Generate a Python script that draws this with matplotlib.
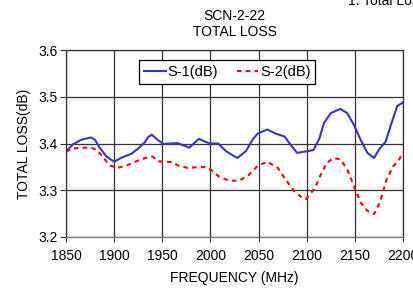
import matplotlib
matplotlib.use("Agg")
import matplotlib.pyplot as plt

plt.rcParams['font.family'] = ['Liberation Sans', 'DejaVu Sans']

freq_s1 = [1850, 1857, 1866, 1876, 1880, 1885, 1892, 1900, 1908, 1918, 1926, 1932,
           1935, 1939, 1945, 1951, 1966, 1978, 1988, 1999, 2008, 2016, 2022, 2028,
           2037, 2044, 2049, 2059, 2068, 2077, 2083, 2090, 2099, 2107, 2113, 2118,
           2125, 2135, 2142, 2149, 2156, 2163, 2170, 2175, 2182, 2187, 2194, 2200]
s1 = [3.382, 3.398, 3.408, 3.413, 3.408, 3.391, 3.372, 3.361, 3.370, 3.378, 3.391, 3.403,
      3.413, 3.419, 3.408, 3.399, 3.401, 3.391, 3.410, 3.400, 3.400, 3.384, 3.376, 3.369,
      3.384, 3.409, 3.421, 3.430, 3.421, 3.415, 3.398, 3.380, 3.383, 3.386, 3.410, 3.444,
      3.465, 3.474, 3.465, 3.440, 3.408, 3.380, 3.369, 3.387, 3.404, 3.437, 3.480, 3.488]

freq_s2 = [1850, 1856, 1866, 1876, 1882, 1889, 1895, 1904, 1913, 1923, 1935, 1940,
           1946, 1961, 1966, 1976, 1994, 2001, 2009, 2020, 2030, 2039, 2049, 2059,
           2070, 2078, 2087, 2094, 2099, 2106, 2110, 2114, 2121, 2128, 2135, 2142,
           2149, 2156, 2163, 2170, 2176, 2183, 2190, 2195, 2200]
s2 = [3.382, 3.389, 3.391, 3.391, 3.386, 3.370, 3.353, 3.348, 3.353, 3.362, 3.371, 3.372,
      3.362, 3.360, 3.353, 3.348, 3.350, 3.343, 3.329, 3.320, 3.321, 3.331, 3.352, 3.361,
      3.348, 3.323, 3.298, 3.286, 3.281, 3.298, 3.311, 3.331, 3.359, 3.369, 3.366, 3.345,
      3.309, 3.274, 3.256, 3.249, 3.274, 3.323, 3.352, 3.362, 3.381]

xticks = [1850, 1900, 1950, 2000, 2050, 2100, 2150, 2200]
yticks = [3.2, 3.3, 3.4, 3.5, 3.6]

fs = 10
fig = plt.figure(figsize=(4.14, 2.89), dpi=100)
ax = fig.add_axes([66/414, 1-237/289, (403-66)/414, (237-50)/289])

ax.plot(freq_s1, s1, color='#3535C8', lw=1.5, label='S-1(dB)')
ax.plot(freq_s2, s2, color='#FF0000', lw=1.5, linestyle=(0, (2.2, 2.0)), label='S-2(dB)')

ax.set_xlim(1850, 2200)
ax.set_ylim(3.2, 3.6)
ax.set_xticks(xticks)
ax.set_yticks(yticks)
ax.set_yticklabels([f"{v:.1f}" for v in yticks])
ax.grid(True, color='#333333', lw=0.9)
ax.set_axisbelow(True)
for s in ax.spines.values():
    s.set_color('#333333')
    s.set_linewidth(0.9)
ax.spines['bottom'].set_color('#777777')
ax.tick_params(axis='y', direction='out', length=4, labelsize=fs, color='#333333', pad=2)
ax.tick_params(axis='x', direction='inout', length=7, labelsize=fs, color='#333333', pad=5)

ax.set_xlabel('FREQUENCY (MHz)', fontsize=fs, labelpad=6)
ax.set_ylabel('TOTAL LOSS(dB)', fontsize=fs, labelpad=5)
ax.set_title('SCN-2-22\nTOTAL LOSS', fontsize=fs, pad=10, linespacing=1.15)

leg = ax.legend(loc='upper center', bbox_to_anchor=(0.479, 0.947), ncol=2, fontsize=10.5,
                frameon=True, fancybox=False, edgecolor='black', framealpha=1,
                handlelength=1.45, handletextpad=0.15, columnspacing=1.25,
                borderpad=0.35, borderaxespad=0)
leg.get_frame().set_linewidth(0.9)

fig.text(348/414, 1.0 + 6/289, '1. Total Loss', fontsize=fs, va='top', ha='left')

fig.savefig('out.png', dpi=100)
